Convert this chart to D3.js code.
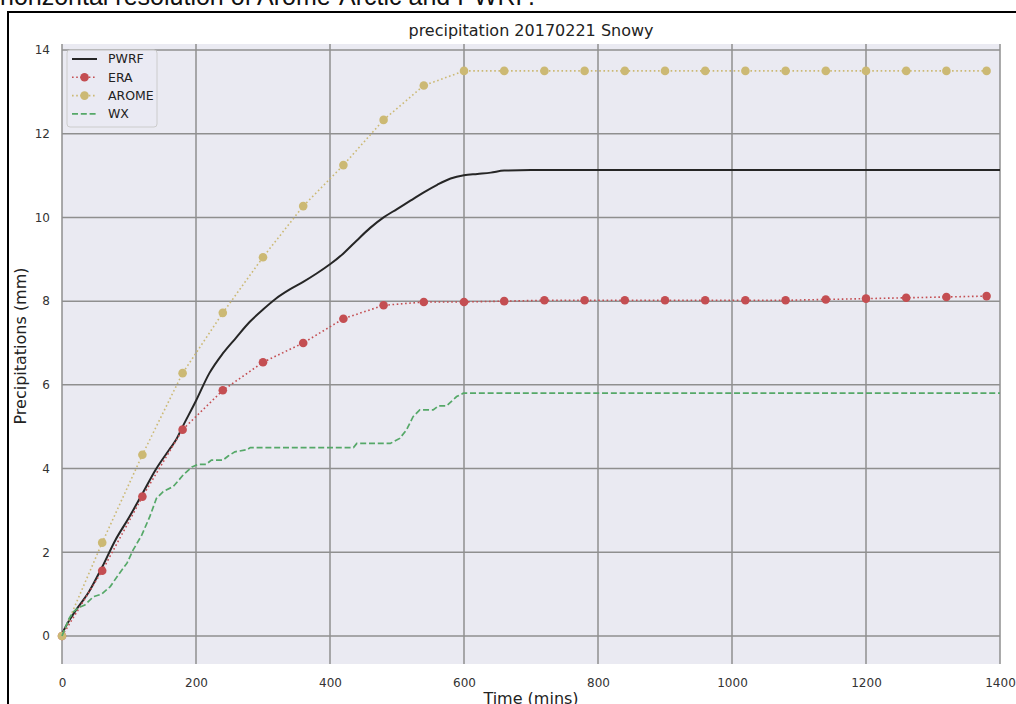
<!DOCTYPE html>
<html>
<head>
<meta charset="utf-8">
<script src="https://cdn.jsdelivr.net/npm/d3@7"></script>
<style>
  body { margin: 0; background: #fff; }
  svg { display: block; }
</style>
</head>
<body>
<script>
const width = 1016;
const height = 704;
const margin = { top: 44, right: 16, bottom: 40, left: 62 };

const chartWidth = width - margin.left - margin.right;
const chartHeight = height - margin.top - margin.bottom;

// model output every 60 min
const eraTimes = [0, 60, 120, 180, 240, 300, 360, 420, 480, 540, 600, 660, 720, 780, 840, 900, 960, 1020, 1080, 1140, 1200, 1260, 1320, 1380];
const eraValues = [0, 1.56, 3.33, 4.93, 5.87, 6.54, 7.0, 7.58, 7.9, 7.98, 7.98, 8.0, 8.02, 8.02, 8.02, 8.02, 8.02, 8.02, 8.02, 8.04, 8.06, 8.08, 8.1, 8.12];

const aromeTimes = [0, 60, 120, 180, 240, 300, 360, 420, 480, 540, 600, 660, 720, 780, 840, 900, 960, 1020, 1080, 1140, 1200, 1260, 1320, 1380];
const aromeValues = [0, 2.23, 4.33, 6.28, 7.72, 9.05, 10.27, 11.25, 12.33, 13.15, 13.5, 13.5, 13.5, 13.5, 13.5, 13.5, 13.5, 13.5, 13.5, 13.5, 13.5, 13.5, 13.5, 13.5];

const pwrfTimes = [0, 10, 20, 40, 60, 80, 100, 120, 140, 160, 170, 180, 200, 220, 240, 260, 280, 300, 320, 340, 360, 380, 400, 420, 440, 460, 480, 500, 520, 540, 560, 580, 600, 620, 640, 660, 700, 1400];
const pwrfValues = [0.05, 0.35, 0.6, 1.05, 1.65, 2.3, 2.83, 3.4, 3.98, 4.45, 4.68, 5.0, 5.62, 6.28, 6.75, 7.13, 7.5, 7.8, 8.07, 8.28, 8.46, 8.66, 8.88, 9.14, 9.45, 9.75, 10.0, 10.2, 10.4, 10.6, 10.78, 10.93, 11.01, 11.04, 11.07, 11.12, 11.13, 11.13];

// observations
const wxTimes = [0, 10, 17, 25, 34, 47, 59, 72, 84, 97, 106, 119, 131, 141, 151, 166, 181, 194, 203, 215, 223, 240, 248, 258, 276, 281, 435, 440, 490, 504, 514, 524, 534, 554, 562, 574, 589, 599, 1400];
const wxValues = [0, 0.4, 0.58, 0.68, 0.74, 0.94, 1.0, 1.18, 1.46, 1.74, 2.05, 2.41, 2.85, 3.29, 3.45, 3.57, 3.85, 4.04, 4.1, 4.1, 4.2, 4.2, 4.3, 4.4, 4.45, 4.5, 4.5, 4.6, 4.6, 4.72, 4.92, 5.24, 5.4, 5.4, 5.5, 5.5, 5.72, 5.8, 5.8];

const xTicks = [0, 200, 400, 600, 800, 1000, 1200, 1400];
const yTicks = [0, 2, 4, 6, 8, 10, 12, 14];

const zip = (ts, vs) => ts.map((t, i) => ({ t: t, v: vs[i] }));

const series = [
  { name: "PWRF", data: zip(pwrfTimes, pwrfValues), color: "#262626", dash: null, marker: false, curve: d3.curveMonotoneX, width: 2 },
  { name: "ERA", data: zip(eraTimes, eraValues), color: "#C44E52", dash: "1.6,2.6", marker: true, curve: d3.curveLinear, width: 1.6 },
  { name: "AROME", data: zip(aromeTimes, aromeValues), color: "#CCB974", dash: "1.6,2.6", marker: true, curve: d3.curveLinear, width: 1.6 },
  { name: "WX", data: zip(wxTimes, wxValues), color: "#55A868", dash: "6,2.8", marker: false, curve: d3.curveLinear, width: 1.7 }
];

const svg = d3.select("body")
  .append("svg")
  .attr("width", width)
  .attr("height", height)
  .style("font-family", "'DejaVu Sans', sans-serif");

// text cut off above the figure
svg.append("text")
  .attr("x", 0)
  .attr("y", 5)
  .attr("font-family", "'Liberation Sans', Arial, sans-serif")
  .attr("font-size", 25)
  .attr("fill", "#111")
  .text("horizontal resolution of Arome-Arctic and PWRF.");

// figure frame
svg.append("rect")
  .attr("x", 8)
  .attr("y", 12)
  .attr("width", width + 20)
  .attr("height", height + 20)
  .attr("fill", "none")
  .attr("stroke", "#000")
  .attr("stroke-width", 2);

const g = svg.append("g")
  .attr("transform", `translate(${margin.left}, ${margin.top})`);

const x = d3.scaleLinear()
  .domain([0, 1400])
  .range([0, 938]);

const y = d3.scaleLinear()
  .domain([-0.669, 14.143])
  .range([chartHeight, 0]);

g.append("rect")
  .attr("width", 938)
  .attr("height", chartHeight)
  .attr("fill", "#EAEAF2");

// grid
g.append("g")
  .selectAll("line")
  .data(yTicks)
  .join("line")
    .attr("x1", 0)
    .attr("x2", 938)
    .attr("y1", d => y(d))
    .attr("y2", d => y(d))
    .attr("stroke", "#8f8f8f")
    .attr("stroke-width", 1.5);

g.append("g")
  .selectAll("line")
  .data(xTicks)
  .join("line")
    .attr("x1", d => x(d))
    .attr("x2", d => x(d))
    .attr("y1", 0)
    .attr("y2", chartHeight)
    .attr("stroke", "#8f8f8f")
    .attr("stroke-width", 1.5);

const xAxis = d3.axisBottom(x).tickValues(xTicks).tickFormat(d3.format("d")).tickSize(0).tickPadding(14);
g.append("g")
  .attr("transform", `translate(0, ${chartHeight})`)
  .call(xAxis)
  .call(a => a.select(".domain").remove())
  .selectAll("text")
  .attr("font-size", 12)
  .attr("font-family", "'DejaVu Sans', sans-serif")
  .attr("fill", "#333");

const yAxis = d3.axisLeft(y).tickValues(yTicks).tickSize(0).tickPadding(12);
g.append("g")
  .call(yAxis)
  .call(a => a.select(".domain").remove())
  .selectAll("text")
  .attr("font-size", 12)
  .attr("font-family", "'DejaVu Sans', sans-serif")
  .attr("fill", "#333");

// lines
const line = d3.line()
  .x(d => x(d.t))
  .y(d => y(d.v));

series.forEach(s => {
  g.append("path")
    .datum(s.data)
    .attr("fill", "none")
    .attr("stroke", s.color)
    .attr("stroke-width", s.width)
    .attr("stroke-dasharray", s.dash)
    .attr("d", line.curve(s.curve));
  if (s.marker) {
    g.append("g")
      .selectAll("circle")
      .data(s.data)
      .join("circle")
        .attr("cx", d => x(d.t))
        .attr("cy", d => y(d.v))
        .attr("r", 4.3)
        .attr("fill", s.color);
  }
});

// titles
g.append("text")
  .attr("x", 938 / 2)
  .attr("y", -8)
  .attr("text-anchor", "middle")
  .attr("font-size", 16)
  .attr("fill", "#222")
  .text("precipitation 20170221 Snowy");

g.append("text")
  .attr("x", 938 / 2)
  .attr("y", chartHeight + 40)
  .attr("text-anchor", "middle")
  .attr("font-size", 16)
  .attr("fill", "#222")
  .text("Time (mins)");

g.append("text")
  .attr("transform", `translate(${-margin.left + 26}, ${chartHeight / 2 - 8}) rotate(-90)`)
  .attr("text-anchor", "middle")
  .attr("font-size", 16)
  .attr("fill", "#222")
  .text("Precipitations (mm)");

// legend
const legend = g.append("g")
  .attr("transform", "translate(5, 6)");

legend.append("rect")
  .attr("width", 90)
  .attr("height", 77)
  .attr("rx", 3)
  .attr("fill", "#EAEAF2")
  .attr("fill-opacity", 0.8)
  .attr("stroke", "#cccccc");

const items = legend.selectAll("g.item")
  .data(series)
  .join("g")
    .attr("class", "item")
    .attr("transform", (d, i) => `translate(0, ${9 + i * 18.3})`);

items.append("line")
  .attr("x1", 5)
  .attr("x2", 30)
  .attr("stroke", d => d.color)
  .attr("stroke-width", d => d.width)
  .attr("stroke-dasharray", d => d.dash);

items.filter(d => d.marker)
  .append("circle")
  .attr("cx", 17.5)
  .attr("r", 4.3)
  .attr("fill", d => d.color);

items.append("text")
  .attr("x", 41)
  .attr("dy", "0.35em")
  .attr("font-size", 12.5)
  .attr("fill", "#222")
  .text(d => d.name);
</script>
</body>
</html>
